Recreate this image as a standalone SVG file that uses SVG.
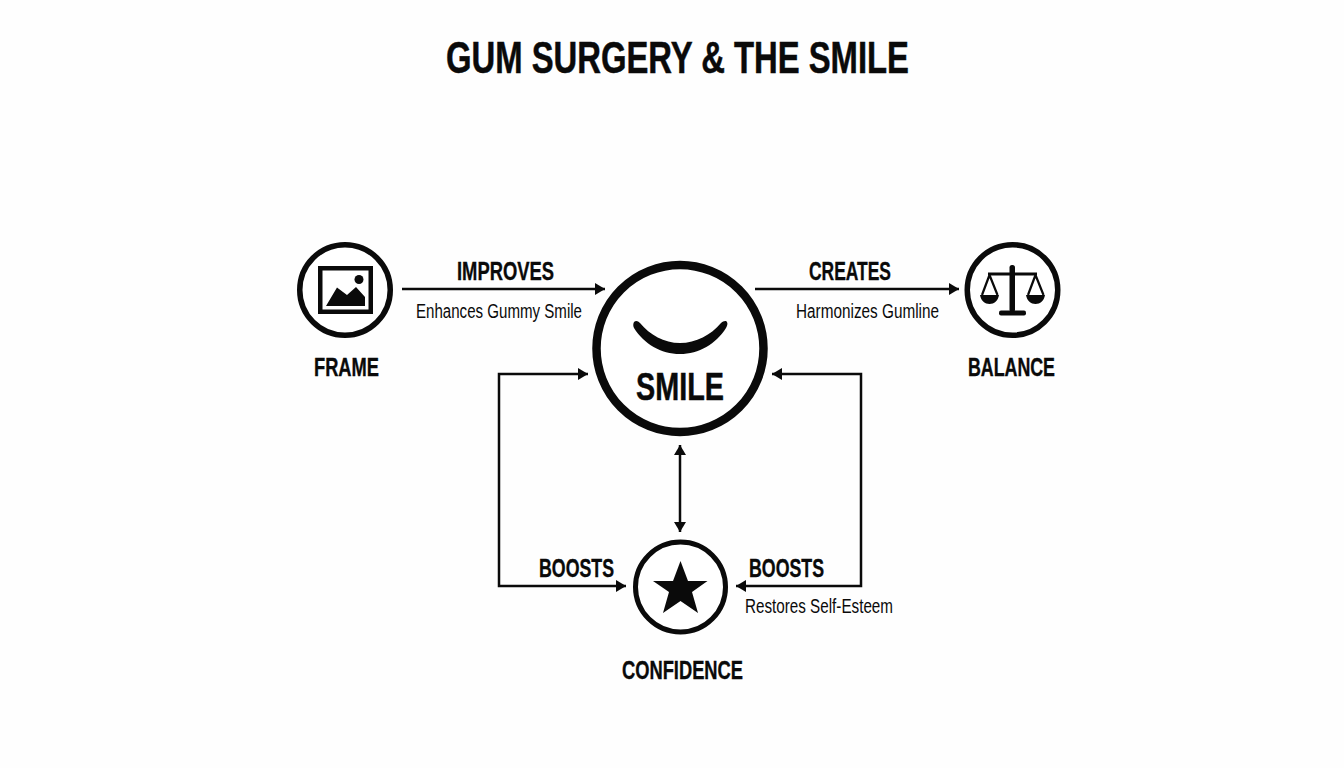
<svg xmlns="http://www.w3.org/2000/svg" width="1344" height="768" viewBox="0 0 1344 768">
<style>
text{font-family:"Liberation Sans",Arial,sans-serif;fill:#0a0a0a}
.b{font-weight:700;font-size:25.500px;stroke:#0a0a0a;stroke-width:.35px}
.s{font-size:20px}
.ring{fill:#fff;stroke:#0a0a0a}
.c{fill:none;stroke:#0a0a0a;stroke-width:2.500}
.f{fill:#0a0a0a}
</style>
<defs>
<marker id="ah" markerUnits="userSpaceOnUse" markerWidth="12" markerHeight="13" refX="10" refY="6.500" orient="auto-start-reverse"><path d="M0 .5L10 6.500L0 12.500Z" fill="#0a0a0a"/></marker>
</defs>
<rect width="1344" height="768" fill="#fefefe"/>
<text id="title" x="446" y="73" font-size="44" font-weight="700" stroke="#0a0a0a" stroke-width=".5" textLength="463" lengthAdjust="spacingAndGlyphs">GUM SURGERY &amp; THE SMILE</text>
<g id="connectors">
<path class="c" d="M402 289H605" marker-end="url(#ah)"/>
<path class="c" d="M755 289H959" marker-end="url(#ah)"/>
<path class="c" d="M626 586H499V374H588" marker-start="url(#ah)" marker-end="url(#ah)"/>
<path class="c" d="M736 586H861V374H772" marker-start="url(#ah)" marker-end="url(#ah)"/>
<path class="c" d="M680 445V532" marker-start="url(#ah)" marker-end="url(#ah)"/>
</g>
<g id="edge-labels">
<text class="b" x="457" y="280" textLength="97" lengthAdjust="spacingAndGlyphs">IMPROVES</text>
<text class="s" x="416" y="318" textLength="166" lengthAdjust="spacingAndGlyphs">Enhances Gummy Smile</text>
<text class="b" x="809" y="280" textLength="82" lengthAdjust="spacingAndGlyphs">CREATES</text>
<text class="s" x="796" y="318" textLength="143" lengthAdjust="spacingAndGlyphs">Harmonizes Gumline</text>
<text class="b" x="539" y="577" textLength="75" lengthAdjust="spacingAndGlyphs">BOOSTS</text>
<text class="b" x="749" y="577" textLength="75" lengthAdjust="spacingAndGlyphs">BOOSTS</text>
<text class="s" x="745" y="613" textLength="148" lengthAdjust="spacingAndGlyphs">Restores Self-Esteem</text>
</g>
<g id="frame">
<circle class="ring" cx="345" cy="290" r="45.250" stroke-width="5.500"/>
<rect x="320.250" y="268.250" width="50.500" height="43.500" fill="none" stroke="#0a0a0a" stroke-width="4.500"/>
<circle class="f" cx="359" cy="279.500" r="4.500"/>
<path class="f" d="M326 306L337 287.500L347 295L356 287L365 297V306Z"/>
<text class="b" x="314" y="376" textLength="65" lengthAdjust="spacingAndGlyphs">FRAME</text>
</g>
<g id="balance">
<circle class="ring" cx="1012.500" cy="290" r="45.250" stroke-width="5.500"/>
<rect class="f" x="1009.500" y="265" width="5.500" height="47" rx="2.500"/>
<rect class="f" x="988" y="272.500" width="49" height="3"/>
<rect class="f" x="999" y="310.500" width="27" height="5" rx="2"/>
<path d="M989.500 275L982 295M989.500 275L997.500 295M1035.500 275L1028 295M1035.500 275L1043.500 295" fill="none" stroke="#0a0a0a" stroke-width="2.200"/>
<path class="f" d="M980 295H999C998 301 994 304 989.500 304C985 304 981 301 980 295Z"/>
<path class="f" d="M1026 295H1045C1044 301 1040 304 1035.500 304C1031 304 1027 301 1026 295Z"/>
<text class="b" x="968" y="376" textLength="87" lengthAdjust="spacingAndGlyphs">BALANCE</text>
</g>
<g id="smile">
<circle class="ring" cx="680" cy="348.500" r="83.500" stroke-width="8.500"/>
<path class="f" d="M634 322C636 320 638 321 640 323C650 335 664 343 680 343C696 343 711 335 721 323C723 321 726 320 727 322C728 324 727 326 726 328C716 344 699 354 680 354C661 354 644 344 634 328C633 326 633 324 634 322Z"/>
<text x="636" y="400" font-size="39" font-weight="700" stroke="#0a0a0a" stroke-width=".5" textLength="88" lengthAdjust="spacingAndGlyphs">SMILE</text>
</g>
<g id="confidence">
<circle class="ring" cx="680.500" cy="587" r="45" stroke-width="5"/>
<path class="f" d="M680.500 561L688 581H707.500L692 592L698 613L680.500 601L663 613L669 592L653 581H673Z"/>
<text class="b" x="622" y="679" textLength="121" lengthAdjust="spacingAndGlyphs">CONFIDENCE</text>
</g>
</svg>
